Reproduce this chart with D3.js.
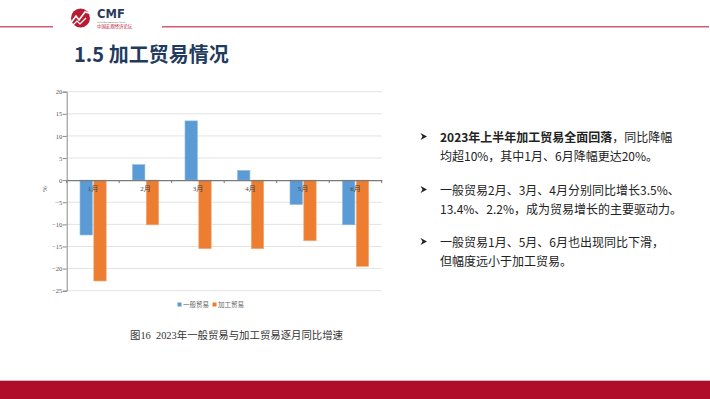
<!DOCTYPE html>
<html><head><meta charset="utf-8">
<script src="https://cdn.jsdelivr.net/npm/d3@7/dist/d3.min.js"></script>
<style>body{margin:0;background:#fff}svg{display:block}</style>
</head><body>
<svg id="c" width="710" height="399"></svg>
<script>
const categories = ["1月","2月","3月","4月","5月","6月"];
const seriesNames = ["一般贸易","加工贸易"];
const generalTrade = [-12.4, 3.5, 13.4, 2.2, -5.5, -10.1];
const processingTrade = [-22.8, -10.1, -15.5, -15.5, -13.7, -19.5];
const yTicks = [20,15,10,5,0,-5,-10,-15,-20,-25];
const colors = ["#5b9bd5","#ed7d31"];
const bullets = [
  [{t:"2023年上半年加工贸易全面回落",b:true},{t:"，同比降幅"}],
  [{t:"均超10%，其中1月、6月降幅更达20%。"}],
  [{t:"一般贸易2月、3月、4月分别同比增长3.5%、"}],
  [{t:"13.4%、2.2%，成为贸易增长的主要驱动力。"}],
  [{t:"一般贸易1月、5月、6月也出现同比下滑，"}],
  [{t:"但幅度远小于加工贸易。"}]
];

const svg = d3.select("#c");
const cjk = "'Noto Sans CJK SC','Noto Sans',sans-serif";
const serif = "'Liberation Serif','Noto Sans CJK SC',serif";

// header
svg.append("line").attr("x1",0).attr("x2",53).attr("y1",26.7).attr("y2",26.7).attr("stroke","#d25c72").attr("stroke-width",1.5);
svg.append("line").attr("x1",162).attr("x2",709).attr("y1",26.7).attr("y2",26.7).attr("stroke","#d25c72").attr("stroke-width",1.5);
const logo = svg.append("g");
logo.append("circle").attr("cx",80.5).attr("cy",18).attr("r",9.5).attr("fill","#b71c32");
logo.append("path").attr("d","M71.5,22 L76,16 L79,20 L85,12 L89,13").attr("fill","none").attr("stroke","#fff").attr("stroke-width",1.6);
logo.append("path").attr("d","M72,26 L77,21 L80,24 L86,18").attr("fill","none").attr("stroke","#fff").attr("stroke-width",1.2);
logo.append("text").attr("x",97).attr("y",18).attr("font-family","'DejaVu Sans',sans-serif").attr("font-weight","bold").attr("font-size",11.5).attr("fill","#2b3b5c").text("CMF");
logo.append("text").attr("x",97).attr("y",22.6).attr("font-family","'DejaVu Sans',sans-serif").attr("font-size",2).attr("fill","#555").text("China Macroeconomy Forum");
logo.append("text").attr("x",97).attr("y",28).attr("font-family",cjk).attr("font-size",4.4).attr("fill","#b71c32").text("中国宏观经济论坛");

svg.append("text").attr("x",74).attr("y",61.5).attr("font-family",cjk).attr("font-weight","bold").attr("font-size",20).attr("fill","#1f3b5e").text("1.5 加工贸易情况");

// chart
const x0 = 66.7, x1 = 381.7;
const x = d3.scaleBand().domain(categories).range([x0,x1]).paddingInner(0).paddingOuter(0);
const y = d3.scaleLinear().domain([-25,20]).range([290.7,91.7]);
const xs = d3.scaleBand().domain(seriesNames).range([13.3, x.bandwidth()-13]).paddingInner(0.1);

const g = svg.append("g");
g.selectAll("line.grid").data(yTicks.filter(d=>d!==0)).enter().append("line")
  .attr("x1",x0).attr("x2",x1).attr("y1",d=>y(d)).attr("y2",d=>y(d))
  .attr("stroke","#e3e3e3").attr("stroke-width",1);

const data = categories.map((c,i)=>({c, v:[generalTrade[i], processingTrade[i]]}));
data.forEach(d=>{
  d.v.forEach((v,j)=>{
    g.append("rect")
      .attr("x", x(d.c)+xs(seriesNames[j]))
      .attr("width", xs.bandwidth())
      .attr("y", y(Math.max(0,v)))
      .attr("height", Math.abs(y(v)-y(0)))
      .attr("fill", colors[j])
      .attr("stroke", j===0?"#8dbbe6":"#f4a877").attr("stroke-width",0.6);
  });
});

const ya = d3.axisLeft(y).tickValues(yTicks).tickSize(4).tickFormat(d3.format("d"));
const yg = g.append("g").attr("transform",`translate(${x0},0)`).call(ya);
yg.select(".domain").attr("stroke","#8a8a8a");
yg.selectAll(".tick line").attr("stroke","#8a8a8a");
yg.selectAll(".tick text").attr("font-family",serif).attr("font-size",6.5).attr("fill","#555").attr("x",-4.5);

const xa = d3.axisBottom(x).tickSize(0).tickPadding(6);
const xg = g.append("g").attr("transform",`translate(0,${y(0)})`).call(xa);
xg.select(".domain").attr("stroke","#7a7a7a").attr("stroke-width",1.2);
xg.selectAll(".tick text").attr("font-family",serif).attr("font-size",7).attr("fill","#444");
g.selectAll("line.xt").data(categories.concat(["end"])).enter().append("line")
  .attr("x1",(d,i)=>x0+i*x.bandwidth()).attr("x2",(d,i)=>x0+i*x.bandwidth())
  .attr("y1",y(0)).attr("y2",y(0)+3).attr("stroke","#7a7a7a");

svg.append("text").attr("transform",`translate(47,189) rotate(-90)`).attr("text-anchor","middle")
  .attr("font-family",serif).attr("font-size",7).attr("fill","#555").text("%");

const lg = svg.append("g");
const legX = [177.5, 212.5];
seriesNames.forEach((n,j)=>{
  lg.append("rect").attr("x",legX[j]).attr("y",302.5).attr("width",4).attr("height",4).attr("fill",colors[j]);
  lg.append("text").attr("x",legX[j]+5.5).attr("y",307).attr("font-family",serif).attr("font-size",6.5).attr("fill","#666").text(n);
});

svg.append("text").attr("x",130).attr("y",339).attr("font-family",serif).attr("font-size",10.4).attr("fill","#333")
  .attr("xml:space","preserve").text("图16  2023年一般贸易与加工贸易逐月同比增速");

const lineY = [141.5, 161, 194.5, 213.5, 246.5, 266];
const bulletLines = [0,2,4];
bullets.forEach((parts,i)=>{
  if(bulletLines.includes(i)){
    svg.append("path").attr("d",`M${420.5},${lineY[i]-8.5} L${427},${lineY[i]-5} L${420.5},${lineY[i]-1.5} L${422.5},${lineY[i]-5} Z`).attr("fill","#222");
  }
  const t = svg.append("text").attr("x",440).attr("y",lineY[i]).attr("font-family",cjk).attr("font-size",12).attr("fill","#222");
  parts.forEach(p=>t.append("tspan").attr("font-weight",p.b?"bold":"normal").text(p.t));
});

svg.append("rect").attr("x",0).attr("y",381).attr("width",710).attr("height",18).attr("fill","#b00d2b");
svg.append("line").attr("x1",0).attr("x2",710).attr("y1",380.5).attr("y2",380.5).attr("stroke","#c7a0a8").attr("stroke-width",0.8);
</script>
</body></html>
